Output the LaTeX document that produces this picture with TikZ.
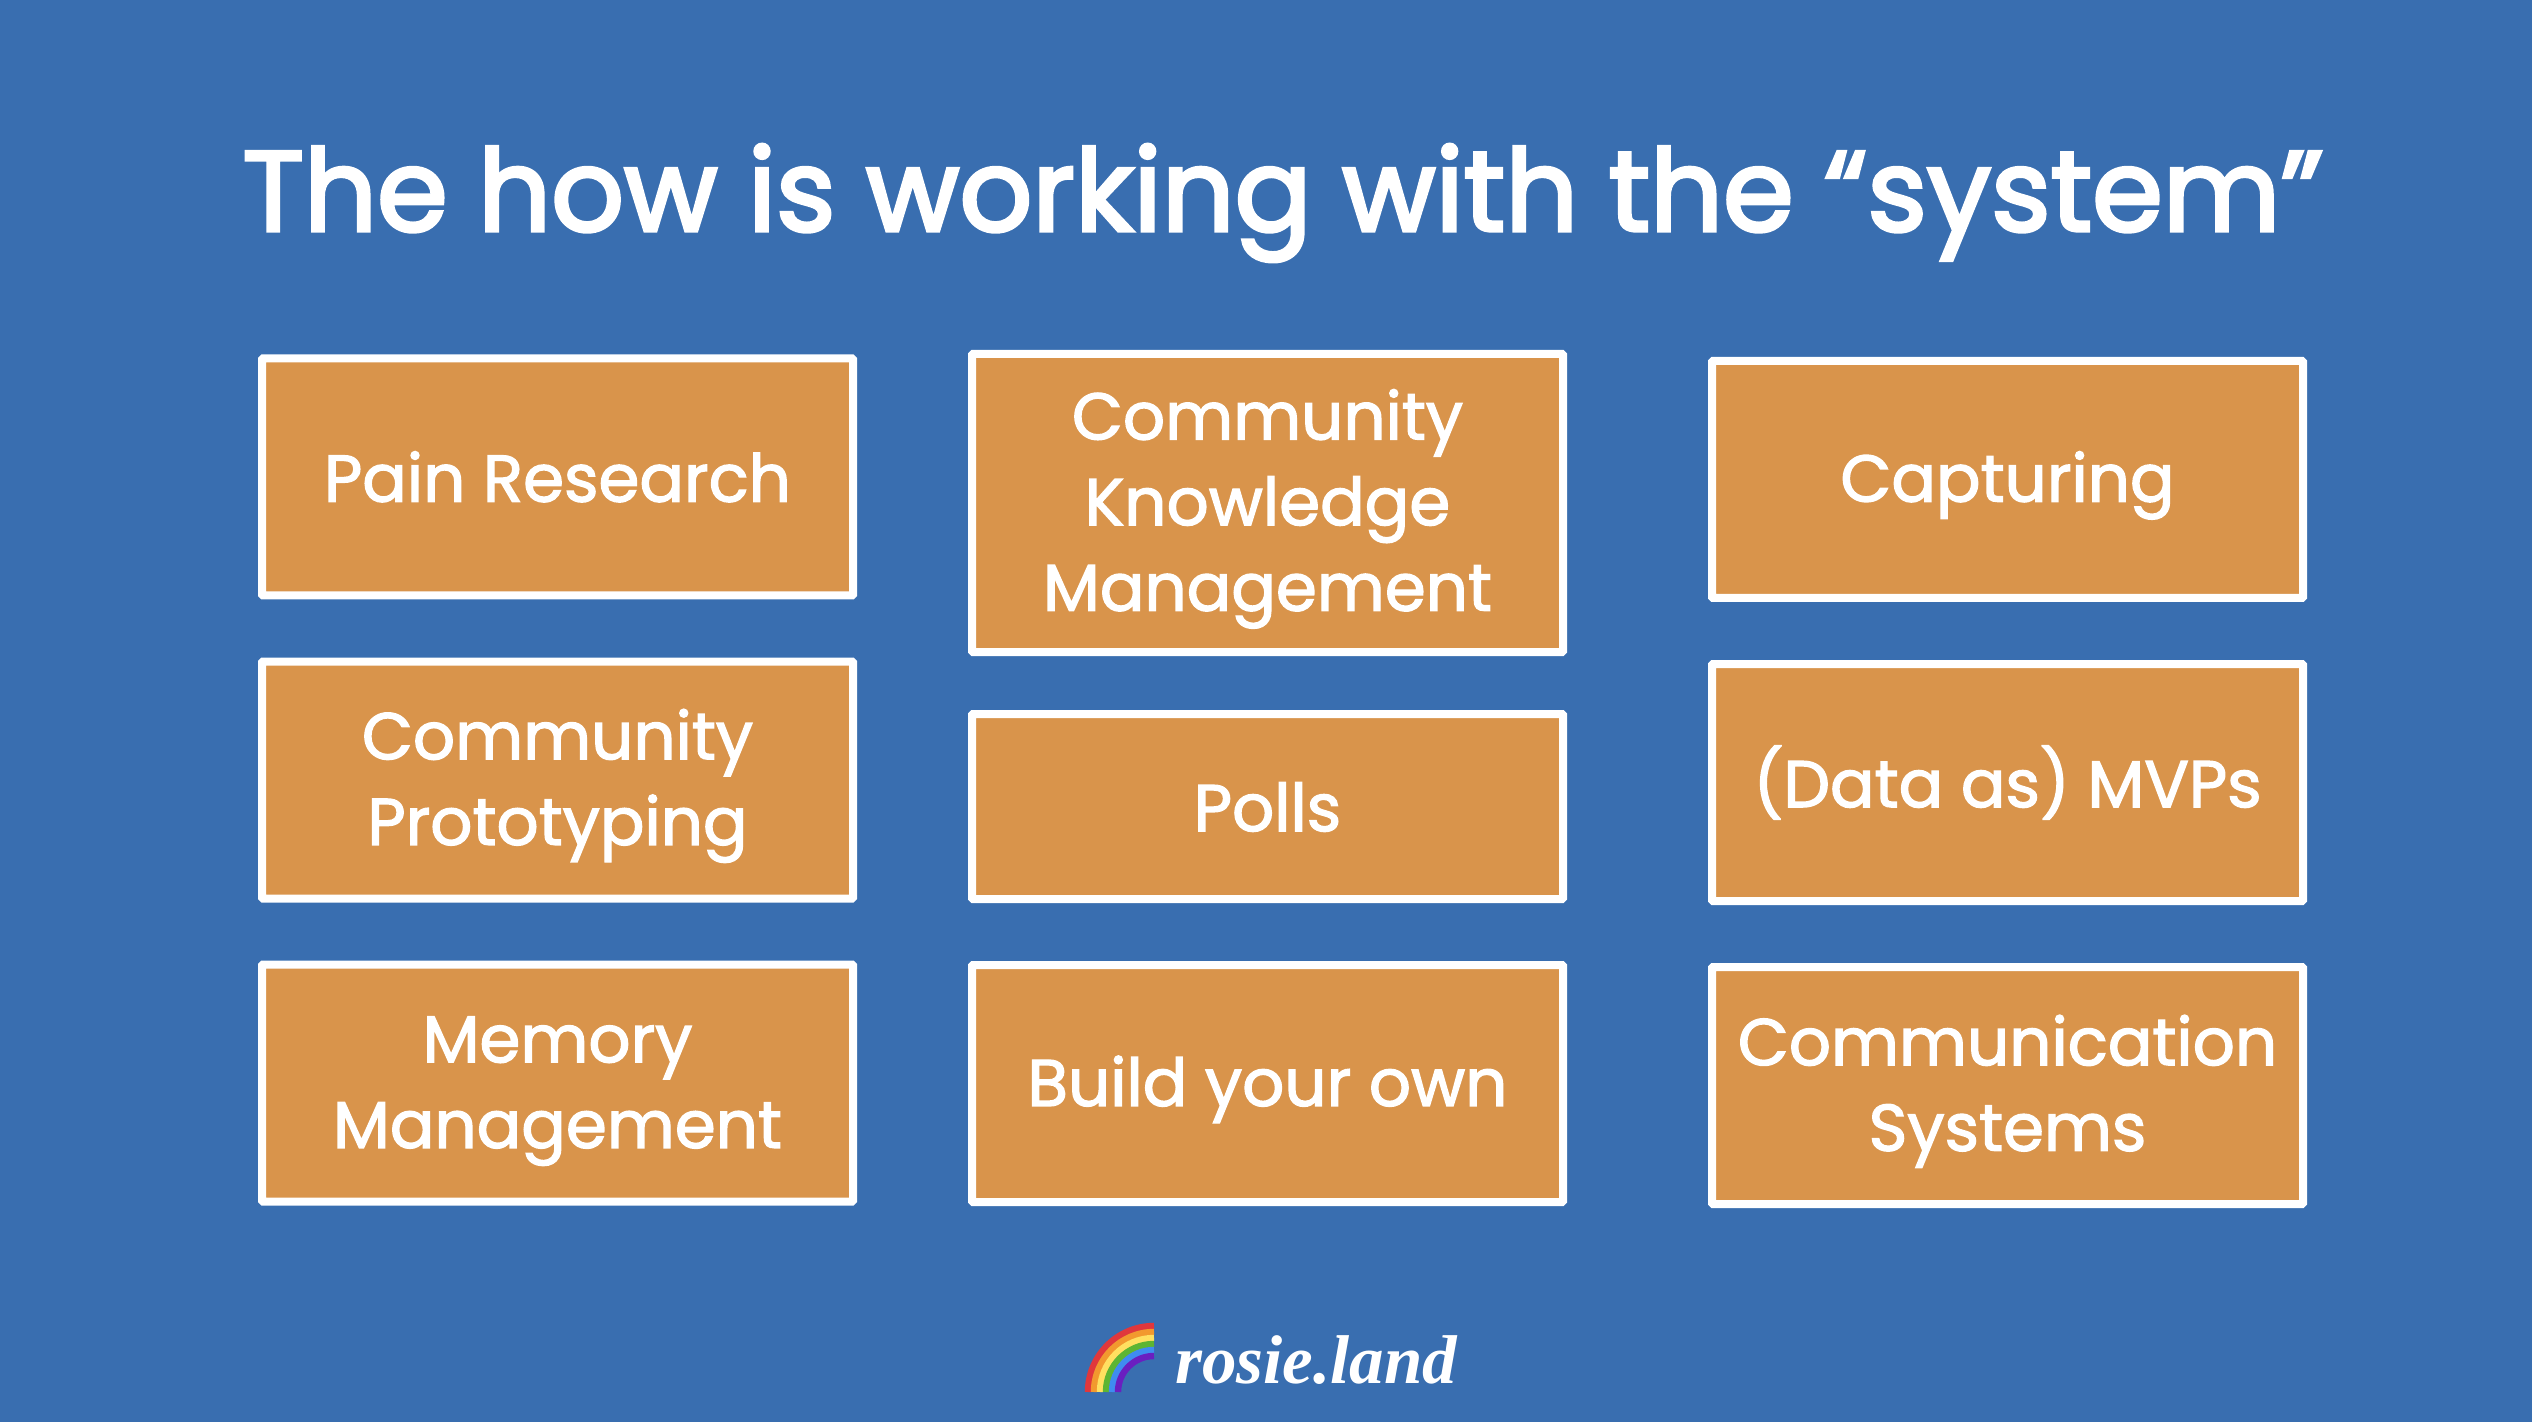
\documentclass[tikz,border=0pt]{standalone}
\usepackage{fontspec}
\setmainfont{Poppins}
\newfontfamily\boxfont{Poppins}[FakeBold=2]
\newfontfamily\titlefont{Poppins}[FakeBold=3]
\newfontfamily\logofont{Liberation Serif}
\usetikzlibrary{positioning}
\definecolor{slideblue}{HTML}{396EB0}
\definecolor{boxorange}{HTML}{D9944B}
\definecolor{bandred}{HTML}{E0373C}
\definecolor{bandorange}{HTML}{F2992E}
\definecolor{bandyellow}{HTML}{FFE060}
\definecolor{bandgreen}{HTML}{5DB532}
\definecolor{bandblue}{HTML}{3F8CF0}
\definecolor{bandviolet}{HTML}{6A1FC0}
\newcommand{\boxstrut}{\rule[-6.4pt]{0pt}{37.4pt}}

\begin{document}
\begin{tikzpicture}[x=0.5pt,y=-0.5pt,
        main box/.style={rectangle,draw=white,fill=boxorange,line width=4pt,rounded corners=0.5pt,
          inner sep=0pt,outer sep=0pt,minimum width=295.5pt,minimum height=118.5pt,align=center,
          text=white,font=\fontsize{33}{42.8}\boxfont},
        small gap/.style={node distance=33pt}]

      \fill[slideblue] (0,0) rectangle (2532,1422);
      \useasboundingbox (0,0) rectangle (2532,1422);

      \node[anchor=base,text=white,font=\fontsize{57}{62}\titlefont] (title) at (1283,231) {The how is working with the “system”};

      % left column
      \node[main box] (1) at (557.5,477) {\boxstrut Pain Research};
      \node[main box,small gap] (2) [below=of 1] {\boxstrut Community\\\boxstrut Prototyping};
      \node[main box,small gap] (3) [below=of 2] {\boxstrut Memory\\\boxstrut Management};

      % middle column
      \node[main box,minimum height=149pt] (4) at (1267.5,503) {\boxstrut Community\\\boxstrut Knowledge\\\boxstrut Management};
      \node[main box,minimum height=92.5pt,node distance=31pt] (5) [below=of 4] {\boxstrut Polls};
      \node[main box,node distance=33pt] (6) [below=of 5] {\boxstrut Build your own};

      % right column
      \node[main box] (7) at (2007.5,479.5) {\boxstrut Capturing};
      \node[main box,small gap] (8) [below=of 7] {\boxstrut (Data as) MVPs};
      \node[main box,small gap] (9) [below=of 8] {\boxstrut Communication\\\boxstrut Systems};

      % rainbow
      \foreach \bandcolor [count=\i] in {bandred,bandorange,bandyellow,bandgreen,bandblue,bandviolet}
        \draw[\bandcolor,line width=3.2pt] (1154-69+6*\i-3,1392) arc[start angle=180,end angle=90,radius=69*0.5pt-6*0.5pt*\i+1.5pt];

      \node[anchor=base west,inner sep=0pt,text=white,font=\fontsize{34.5}{42}\logofont\bfseries\itshape] (logo) at (1175,1383) {rosie.land};
      \end{tikzpicture}
\end{document}
